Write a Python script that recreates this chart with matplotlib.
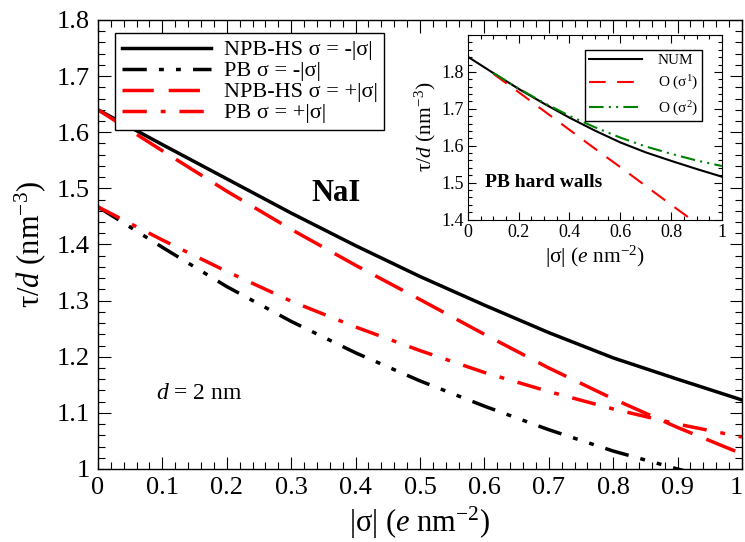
import numpy as np
import matplotlib
matplotlib.use("Agg")
import matplotlib.pyplot as plt
from matplotlib.ticker import MultipleLocator, FormatStrFormatter, FuncFormatter

plt.rcParams['font.family'] = ['Liberation Serif', 'DejaVu Serif']
plt.rcParams['mathtext.fontset'] = 'custom'
plt.rcParams['mathtext.rm'] = 'Liberation Serif'
plt.rcParams['mathtext.it'] = 'Liberation Serif:italic'

# surface charge |sigma| (e nm^-2)
sigma = [0.0, 0.1, 0.2, 0.3, 0.4, 0.5, 0.6, 0.7, 0.8, 0.9, 1.0]

# NaI, d = 2 nm
npb_neg = [1.640, 1.578, 1.517, 1.456, 1.398, 1.343, 1.292, 1.243, 1.198, 1.160, 1.123]
pb_neg  = [1.467, 1.395, 1.325, 1.263, 1.207, 1.157, 1.112, 1.070, 1.032, 1.000, 0.970]
npb_pos = [1.640, 1.567, 1.495, 1.427, 1.363, 1.302, 1.240, 1.180, 1.125, 1.074, 1.027]
pb_pos  = [1.467, 1.408, 1.352, 1.299, 1.253, 1.211, 1.172, 1.138, 1.107, 1.080, 1.057]

# PB hard walls: numerical vs expansions
num_ = [1.841, 1.797, 1.754, 1.714, 1.676, 1.641, 1.609, 1.582, 1.559, 1.537, 1.516]
sig_exp = [0.1, 0.2, 0.3, 0.4, 0.5, 0.6, 0.7, 0.8, 0.9, 1.0]
order1 = [1.795, 1.745, 1.694, 1.643, 1.592, 1.542, 1.491, 1.440, 1.390, 1.339]
order2 = [1.797, 1.755, 1.716, 1.681, 1.650, 1.622, 1.598, 1.578, 1.560, 1.545]

fig = plt.figure(figsize=(7.45, 5.42), dpi=100)
ax = fig.add_axes([0.1315, 0.1347, 0.8644, 0.8284])

lw = 2.5
ax.plot(sigma, npb_neg, color='black', lw=lw, label='NPB-HS σ = -|σ|')
ax.plot(sigma, pb_neg, color='black', lw=lw, dashes=(7, 3.5, 1.4, 3.5, 1.4, 3.5),
        label='PB σ = -|σ|')
ax.plot(sigma, npb_pos, color='red', lw=lw, dashes=(9, 4.3), label='NPB-HS σ = +|σ|')
ax.plot(sigma, pb_pos, color='red', lw=lw, dashes=(7, 4, 1.4, 4), label='PB σ = +|σ|')

ax.set_xlim(0, 1)
ax.set_ylim(1, 1.8)
ax.xaxis.set_major_locator(MultipleLocator(0.1))
ax.xaxis.set_minor_locator(MultipleLocator(0.02))
ax.yaxis.set_major_locator(MultipleLocator(0.1))
ax.yaxis.set_minor_locator(MultipleLocator(0.02))
# last x label is drawn separately, right-aligned so it stays on the page
ax.xaxis.set_major_formatter(FuncFormatter(lambda v, p: '' if v > 0.999 else '%g' % v))
ax.yaxis.set_major_formatter(FormatStrFormatter('%g'))
ax.tick_params(which='both', direction='in', top=True, right=True, width=0.8)
ax.tick_params(which='major', length=9, labelsize=19, pad=6)
ax.tick_params(which='minor', length=5)
for s in ax.spines.values():
    s.set_linewidth(1.0)
ax.annotate('1', xy=(1, 0), xycoords='axes fraction', xytext=(1, -6),
            textcoords='offset points', ha='right', va='top', fontsize=19)

ax.set_xlabel('|σ| ($e$ nm$^{-2}$)', fontsize=22, labelpad=4)
ax.set_ylabel('τ/$d$ (nm$^{-3}$)', fontsize=22, labelpad=6)

ax.text(0.37, 1.49, 'NaI', fontsize=22, fontweight='bold', ha='center', va='center')
ax.text(0.09, 1.135, '$d$ = 2 nm', fontsize=17, ha='left', va='center')

leg = ax.legend(loc='upper left', bbox_to_anchor=(0.1544, 0.939),
                bbox_transform=fig.transFigure, fontsize=16, handlelength=4.0,
                labelspacing=0.02, borderaxespad=0, fancybox=False,
                edgecolor='black', framealpha=1, borderpad=0.3, handletextpad=0.6)
leg.get_frame().set_linewidth(1.0)

# inset
axi = fig.add_axes([0.628, 0.595, 0.341, 0.3404])
ilw = 1.5
axi.plot(sigma, num_, color='black', lw=ilw, label='NUM')
axi.plot(sig_exp, order1, color='red', lw=ilw, dashes=(8, 5.5), label='O (σ$^{1}$)')
axi.plot(sig_exp, order2, color='green', lw=ilw, dashes=(7, 2.5, 1, 2.5, 1, 2.5),
         label='O (σ$^{2}$)')
axi.set_xlim(0, 1)
axi.set_ylim(1.4, 1.9)
axi.set_xticks([0, 0.2, 0.4, 0.6, 0.8, 1.0])
axi.set_yticks([1.4, 1.5, 1.6, 1.7, 1.8])
axi.xaxis.set_minor_locator(MultipleLocator(0.05))
axi.yaxis.set_minor_locator(MultipleLocator(0.02))
axi.xaxis.set_major_formatter(FormatStrFormatter('%g'))
axi.yaxis.set_major_formatter(FormatStrFormatter('%g'))
axi.tick_params(which='both', direction='in', top=True, right=True, width=0.8)
axi.tick_params(which='major', length=6, labelsize=13, pad=3)
axi.tick_params(which='minor', length=3)
axi.set_xlabel('|σ| ($e$ nm$^{-2}$)', fontsize=15.5, labelpad=2)
axi.set_ylabel('τ/$d$ (nm$^{-3}$)', fontsize=15.5, labelpad=2)
axi.text(0.068, 1.5, 'PB hard walls', fontsize=14, fontweight='bold', ha='left', va='center')

ileg = axi.legend(loc='upper right', bbox_to_anchor=(0.942, 0.908),
                  bbox_transform=fig.transFigure, fontsize=11, handlelength=3.5,
                  labelspacing=0.45, borderaxespad=0, fancybox=False,
                  edgecolor='black', framealpha=1, borderpad=0.25, handletextpad=1.0)
ileg.get_frame().set_linewidth(1.0)

fig.savefig('out.png', dpi=100)
